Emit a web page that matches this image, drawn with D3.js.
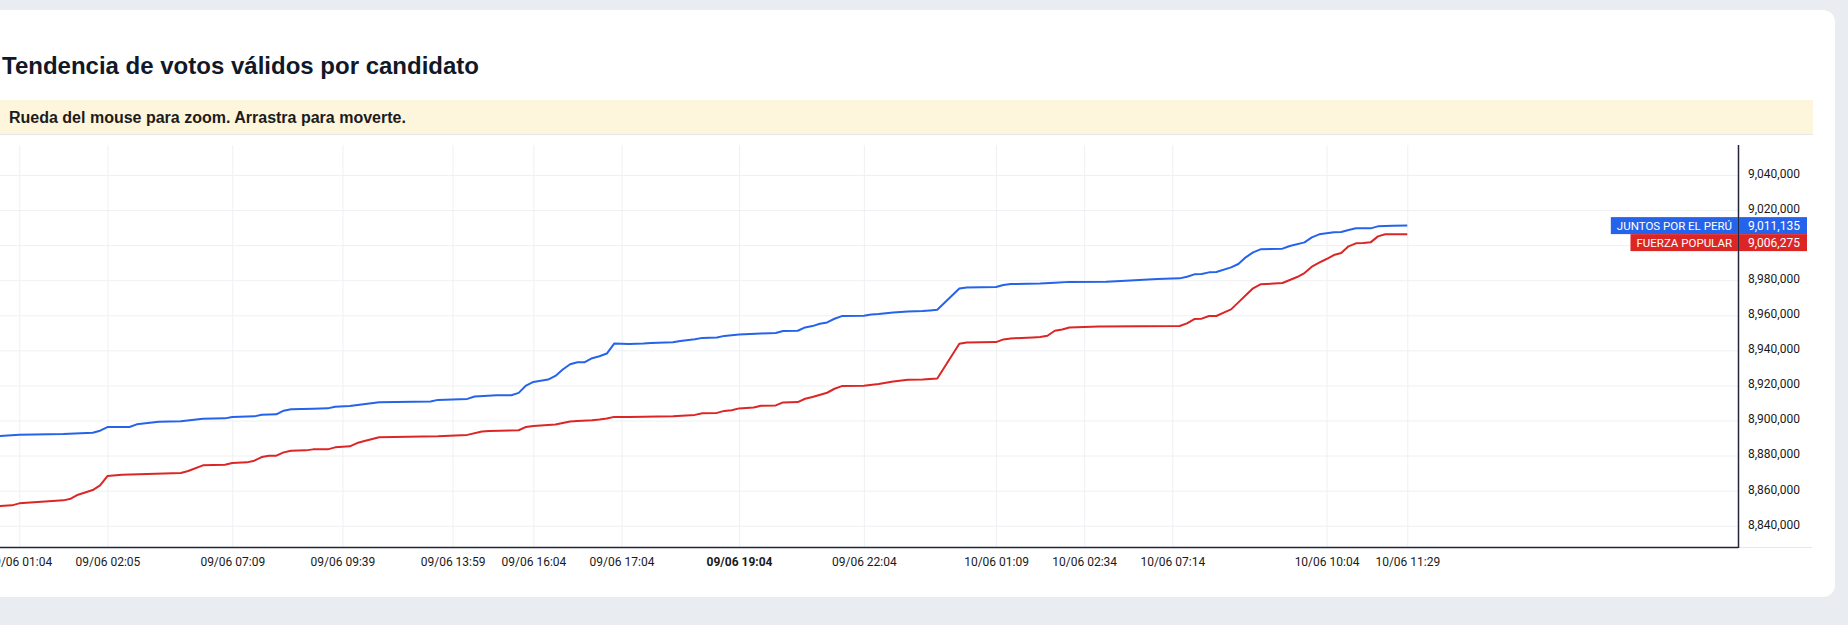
<!DOCTYPE html>
<html>
<head>
<meta charset="utf-8">
<script src="https://cdn.jsdelivr.net/npm/d3@7"></script>
<style>
  html, body { margin: 0; padding: 0; background: #e9ecf0; overflow: hidden; }
  svg { display: block; }
</style>
</head>
<body>
<div id="chart"></div>
<script>
// tick labels on the time scale (bar index -> label)
const tickIdx = [3, 15, 32, 47, 62, 73, 85, 101, 118, 136, 148, 160, 181, 192];
const tickLabels = ["09/06 01:04", "09/06 02:05", "09/06 07:09", "09/06 09:39", "09/06 13:59", "09/06 16:04",
  "09/06 17:04", "09/06 19:04", "09/06 22:04", "10/06 01:09", "10/06 02:34", "10/06 07:14", "10/06 10:04", "10/06 11:29"];
const boldTick = "09/06 19:04";

const priceTicks = [8840000, 8860000, 8880000, 8900000, 8920000, 8940000, 8960000, 8980000, 9000000, 9020000, 9040000];

// JUNTOS POR EL PERÚ
const juntosIdx = [0, 3, 9, 13, 14, 15, 18, 19, 22, 25, 28, 31, 32, 35, 36, 38, 39, 40, 43, 45, 46, 48, 52, 59, 60, 64, 65, 68, 70, 71,
  72, 73, 75, 76, 77, 78, 79, 80, 81, 82, 83, 84, 86, 88, 89, 92, 93, 95, 96, 98, 99, 101, 104, 106, 107, 109, 110, 111, 112, 113,
  114, 115, 118, 119, 120, 122, 124, 126, 127, 128, 131, 132, 136, 137, 138, 142, 144, 146, 151, 153, 158, 161, 162, 163, 164, 165,
  166, 168, 169, 170, 171, 172, 175, 176, 178, 179, 180, 182, 183, 184, 185, 187, 188, 190, 192];
const juntosVal = [8891050, 8891900, 8892280, 8893040, 8894180, 8896270, 8896270, 8897790, 8899310, 8899500, 8901020, 8901210,
  8901970, 8902350, 8903300, 8903490, 8905580, 8906350, 8906730, 8906920, 8907870, 8908250, 8910450, 8910800, 8911750, 8912320,
  8913650, 8914410, 8914410, 8915740, 8919920, 8922010, 8923340, 8925430, 8929050, 8932090, 8933230, 8933230, 8935510, 8936650,
  8938170, 8943870, 8943680, 8943870, 8944250, 8944630, 8945390, 8946350, 8947110, 8947300, 8948250, 8949050, 8949660, 8949850,
  8950990, 8951180, 8953080, 8953840, 8955170, 8955930, 8958020, 8959540, 8959730, 8960490, 8960680, 8961630, 8962200, 8962390,
  8962770, 8963150, 8975320, 8975890, 8976080, 8977220, 8977790, 8978170, 8978550, 8979050, 8979100, 8979500, 8980680, 8981060,
  8982010, 8983340, 8983530, 8984480, 8984670, 8987340, 8989240, 8993040, 8995890, 8997600, 8997980, 8999500, 9001590, 9004440,
  9006160, 9007300, 9007490, 9008630, 9009580, 9009580, 9010720, 9011100, 9011135];

// FUERZA POPULAR
const fuerzaIdx = [0, 2, 3, 5, 9, 10, 11, 13, 14, 15, 17, 25, 26, 28, 31, 32, 34, 35, 36, 37, 38, 39, 40, 42, 43, 45, 46, 48, 49, 50,
  52, 60, 64, 66, 67, 71, 72, 73, 76, 78, 79, 81, 82, 83, 84, 86, 92, 95, 96, 98, 99, 100, 101, 103, 104, 106, 107, 109, 110, 111,
  113, 114, 115, 118, 120, 122, 124, 126, 128, 131, 132, 136, 137, 138, 141, 142, 143, 144, 145, 146, 150, 161, 162, 163, 164, 165,
  166, 167, 168, 169, 170, 171, 172, 175, 176, 177, 178, 179, 180, 181, 182, 183, 184, 185, 186, 187, 188, 189, 192];
const fuerzaVal = [8851100, 8851600, 8852740, 8853310, 8854450, 8855400, 8857680, 8860340, 8863000, 8868330, 8869090, 8870040,
  8871180, 8874410, 8874790, 8875740, 8876120, 8877070, 8879160, 8879920, 8879920, 8881820, 8882770, 8882960, 8883530, 8883530,
  8884670, 8885240, 8887140, 8888290, 8890460, 8891030, 8891790, 8893690, 8894070, 8894450, 8896350, 8896920, 8897680, 8899390,
  8899770, 8900150, 8900530, 8901100, 8902050, 8902050, 8902430, 8903190, 8904140, 8904330, 8905470, 8905850, 8906900, 8907450,
  8908400, 8908590, 8910310, 8910500, 8912400, 8913350, 8915820, 8918100, 8919620, 8919810, 8920760, 8922280, 8923230, 8923420,
  8923990, 8943760, 8944520, 8944710, 8946230, 8946800, 8947370, 8947570, 8948330, 8951180, 8951940, 8953080, 8953550, 8953880,
  8955400, 8957870, 8958060, 8959580, 8959580, 8961480, 8963380, 8967370, 8971370, 8975360, 8977640, 8978400, 8980110, 8981820,
  8984100, 8987720, 8990000, 8992090, 8994370, 8995510, 8999310, 9001020, 9001210, 9001590, 9005010, 9006160, 9006275];

const seriesNames = ["JUNTOS POR EL PERÚ", "FUERZA POPULAR"];
const seriesColors = ["#2563eb", "#dc2626"];

const W = 1848, H = 625;
const plot = ({left: 0, top: 145, right: 1738, bottom: 547});

var svg = d3.select("#chart").append("svg")
  .attr("width", W)
  .attr("height", H);

// card
svg.append("rect")
  .attr("x", -30).attr("y", 10)
  .attr("width", 1865).attr("height", 587)
  .attr("rx", 12)
  .style("fill", "#fff");

svg.append("text")
  .attr("x", 2).attr("y", 74)
  .style("font-family", "'Liberation Sans', Arial, sans-serif")
  .style("font-size", "24px")
  .style("font-weight", "bold")
  .style("fill", "#111827")
  .text("Tendencia de votos válidos por candidato");

// hint banner
svg.append("rect")
  .attr("x", -10).attr("y", 100)
  .attr("width", 1823).attr("height", 34)
  .style("fill", "#fef6dc");
svg.append("line")
  .attr("x1", -10).attr("x2", 1813)
  .attr("y1", 134.5).attr("y2", 134.5)
  .style("stroke", "#e5e7eb");
svg.append("text")
  .attr("x", 9).attr("y", 123)
  .style("font-family", "'Liberation Sans', Arial, sans-serif")
  .style("font-size", "16px")
  .style("font-weight", "bold")
  .style("fill", "#1c1c1c")
  .text("Rueda del mouse para zoom. Arrastra para moverte.");

var x = d3.scaleLinear()
  .domain([0, 192])
  .range([-2.73, 1407.3]);

var y = d3.scaleLinear()
  .domain([8840000, 9040000])
  .range([525.7, 175]);

svg.append("clipPath").attr("id", "clip")
  .append("rect")
  .attr("x", plot.left).attr("y", plot.top)
  .attr("width", plot.right - plot.left).attr("height", plot.bottom - plot.top);

// grid
svg.append("g")
  .attr("class", "x-grid")
  .attr("transform", "translate(0," + plot.bottom + ")")
  .call(d3.axisBottom(x).tickValues(tickIdx).tickSize(-(plot.bottom - plot.top)).tickFormat(""))
  .call(g => g.select(".domain").remove())
  .call(g => g.selectAll("line").style("stroke", "#eef0f4"));

svg.append("g")
  .attr("class", "y-grid")
  .attr("transform", "translate(" + plot.right + ",0)")
  .call(d3.axisLeft(y).tickValues(priceTicks).tickSize(plot.right - plot.left).tickFormat(""))
  .call(g => g.select(".domain").remove())
  .call(g => g.selectAll("line").style("stroke", "#eef0f4"));

var line = d3.line()
  .x(function(d) { return x(d[0]); })
  .y(function(d) { return y(d[1]); });

const series = [
  d3.zip(juntosIdx, juntosVal),
  d3.zip(fuerzaIdx, fuerzaVal)
];

svg.append("g")
  .attr("clip-path", "url(#clip)")
  .selectAll("path")
  .data(series)
  .enter().append("path")
  .style("fill", "none")
  .style("stroke", (d, i) => seriesColors[i])
  .style("stroke-width", "2px")
  .style("stroke-linejoin", "round")
  .attr("d", line);

// last value labels, pushed apart so they do not overlap
const boxH = 17;
var lastY = series.map(s => y(s[s.length - 1][1]));
var boxY = [];
lastY.forEach(function(v, i) {
  boxY[i] = (i > 0 && v < boxY[i - 1] + boxH) ? boxY[i - 1] + boxH : v;
});

// time axis
svg.append("g")
  .attr("class", "x-axis")
  .attr("transform", "translate(0," + plot.bottom + ")")
  .call(d3.axisBottom(x).tickValues(tickIdx).tickSize(0).tickPadding(10).tickFormat((d, i) => tickLabels[i]))
  .call(g => g.select(".domain").remove())
  .call(g => g.selectAll("text")
    .style("font-family", "Roboto, sans-serif")
    .style("font-size", "12px")
    .style("fill", "#1a1a1a")
    .style("font-weight", d => tickLabels[tickIdx.indexOf(d)] === boldTick ? "bold" : "normal"));

// price axis
svg.append("g")
  .attr("class", "y-axis")
  .attr("transform", "translate(" + plot.right + ",0)")
  .call(d3.axisRight(y).tickValues(priceTicks.filter(t => boxY.every(b => Math.abs(y(t) - b) > 13)))
    .tickSize(0).tickPadding(10).tickFormat(d3.format(",")))
  .call(g => g.select(".domain").remove())
  .call(g => g.selectAll("text")
    .attr("dy", "0.2em")
    .style("font-family", "Roboto, sans-serif")
    .style("font-size", "12px")
    .style("fill", "#1a1a1a"));

svg.append("line")
  .attr("x1", plot.right).attr("x2", 1812)
  .attr("y1", plot.bottom + 0.5).attr("y2", plot.bottom + 0.5)
  .style("stroke", "#e5e7eb");
svg.append("line")
  .attr("x1", plot.left).attr("x2", plot.right)
  .attr("y1", plot.bottom + 0.5).attr("y2", plot.bottom + 0.5)
  .style("stroke", "#23263a")
  .style("stroke-width", "1.5px");
svg.append("line")
  .attr("x1", plot.right + 0.5).attr("x2", plot.right + 0.5)
  .attr("y1", plot.top).attr("y2", plot.bottom + 1)
  .style("stroke", "#23263a")
  .style("stroke-width", "1.5px");

var labels = svg.append("g").attr("class", "last-values");
series.forEach(function(s, i) {
  var cy = boxY[i];
  labels.append("rect")
    .attr("x", plot.right + 1).attr("y", cy - boxH / 2)
    .attr("width", 68).attr("height", boxH)
    .style("fill", seriesColors[i]);
  labels.append("text")
    .attr("x", plot.right + 10).attr("y", cy)
    .attr("dy", "0.35em")
    .style("font-family", "Roboto, sans-serif")
    .style("font-size", "12px")
    .style("fill", "#fff")
    .text(d3.format(",")(s[s.length - 1][1]));

  var name = labels.append("text")
    .attr("x", plot.right - 6).attr("y", cy)
    .attr("dy", "0.35em")
    .attr("text-anchor", "end")
    .style("font-family", "Roboto, sans-serif")
    .style("font-size", "11.5px")
    .style("fill", "#fff")
    .text(seriesNames[i]);
  var w = name.node().getComputedTextLength();
  labels.insert("rect", function() { return name.node(); })
    .attr("x", plot.right - 6 - w - 6).attr("y", cy - boxH / 2)
    .attr("width", w + 12).attr("height", boxH)
    .style("fill", seriesColors[i]);
});
</script>
</body>
</html>
